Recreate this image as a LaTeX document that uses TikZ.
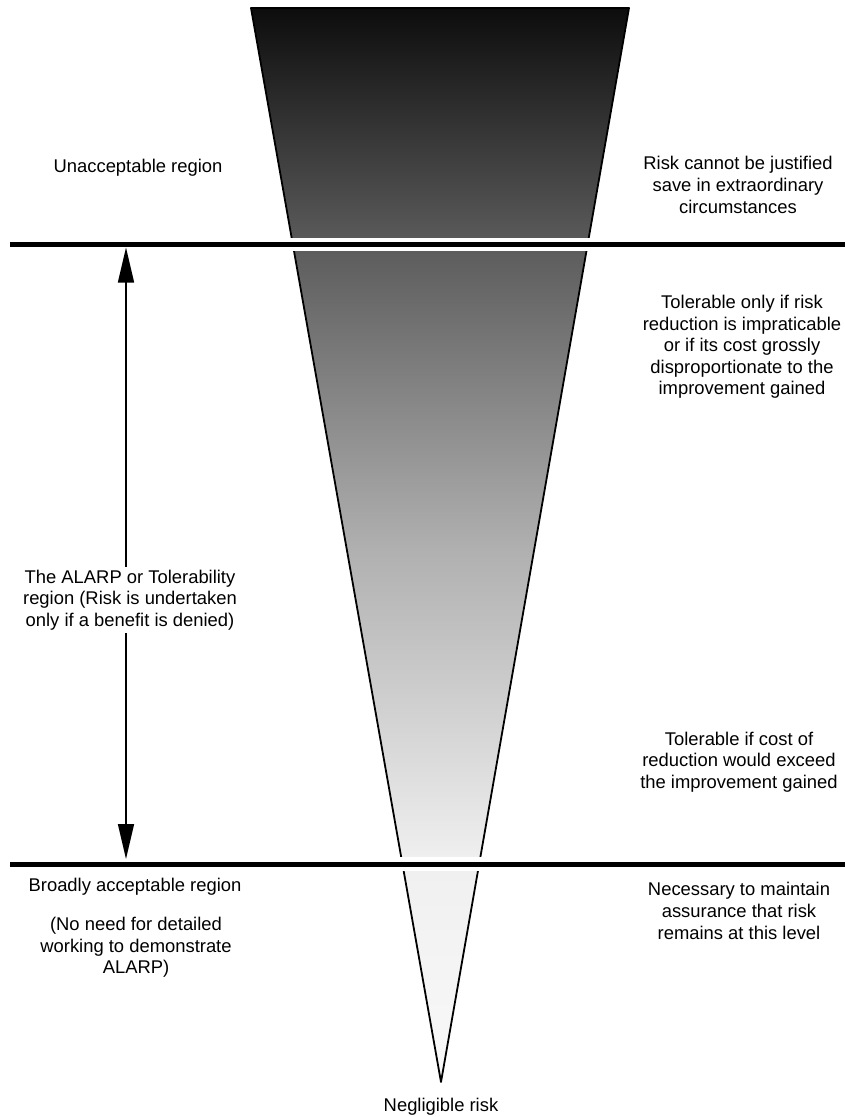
\documentclass[tikz,border=0pt]{standalone}
\usepackage{fontspec}
\setmainfont{Liberation Sans}
\usetikzlibrary{arrows.meta}
\definecolor{gA}{gray}{0.975}
\definecolor{gB}{gray}{0.94}
\definecolor{gC}{gray}{0.69}
\definecolor{gD}{gray}{0.35}
\definecolor{gE}{gray}{0.05}
\pgfdeclareverticalshading{riskshade}{100bp}{color(0bp)=(gA); color(25bp)=(gA); color(35.3bp)=(gB); color(49.8bp)=(gC); color(64.3bp)=(gD); color(75bp)=(gE); color(100bp)=(gE)}
\begin{document}
\begin{tikzpicture}[x=1pt,y=-1pt,
  txt/.style={align=center,font=\fontsize{18.4}{21.6}\selectfont,inner sep=0pt},
  divider/.style={line width=5pt},
  outline/.style={line width=1.8pt,line join=round},
  band/.style={fill=white},
  dblarrow/.style={line width=1.5pt,{Triangle[length=35pt,width=16pt]}-{Triangle[length=35pt,width=16pt]}}]
\useasboundingbox (0,0) rectangle (845,1117);
% funnel
\coordinate (TL) at (251,8);
\coordinate (TR) at (629,8);
\coordinate (tip) at (441,1082);
\shade[shading=riskshade] (TL) -- (TR) -- (tip) -- cycle;
\draw[outline] (TL) -- (TR) -- (tip) -- cycle;
% white gaps
\fill[band] (240,238) rectangle (640,250.5);
\fill[band] (380,857) rectangle (500,870.5);
% dividers
\coordinate (L1a) at (10,244.5);
\coordinate (L1b) at (845,244.5);
\coordinate (L2a) at (10,864.5);
\coordinate (L2b) at (845,864.5);
\draw[divider] (L1a) -- (L1b);
\draw[divider] (L2a) -- (L2b);
% arrow
\coordinate (Atop) at (126,247.5);
\coordinate (Abot) at (126,859);
\draw[dblarrow] (Atop) -- (Abot);
% texts
\node[txt] (unacc) at (138,168) {Unacceptable region};
\node[txt] (riskjust) at (738,185) {Risk cannot be justified\\save in extraordinary\\circumstances};
\node[txt] (tolonly) at (742,347) {Tolerable only if risk\\reduction is impraticable\\or if its cost grossly\\disproportionate to the\\improvement gained};
\node[txt,fill=white,inner xsep=3pt,inner ysep=3pt] (alarp) at (130,600) {The ALARP or Tolerability\\region (Risk is undertaken\\only if a benefit is denied)};
\node[txt] (tolif) at (739,762) {Tolerable if cost of\\reduction would exceed\\the improvement gained};
\node[txt] (broad) at (135,887) {Broadly acceptable region};
\node[txt] (noneed) at (136,947.5) {(No need for detailed\\working to demonstrate\\ALARP)};
\node[txt] (necess) at (739,911) {Necessary to maintain\\assurance that risk\\remains at this level};
\node[txt] (neglig) at (441,1107) {Negligible risk};
\end{tikzpicture}
\end{document}
